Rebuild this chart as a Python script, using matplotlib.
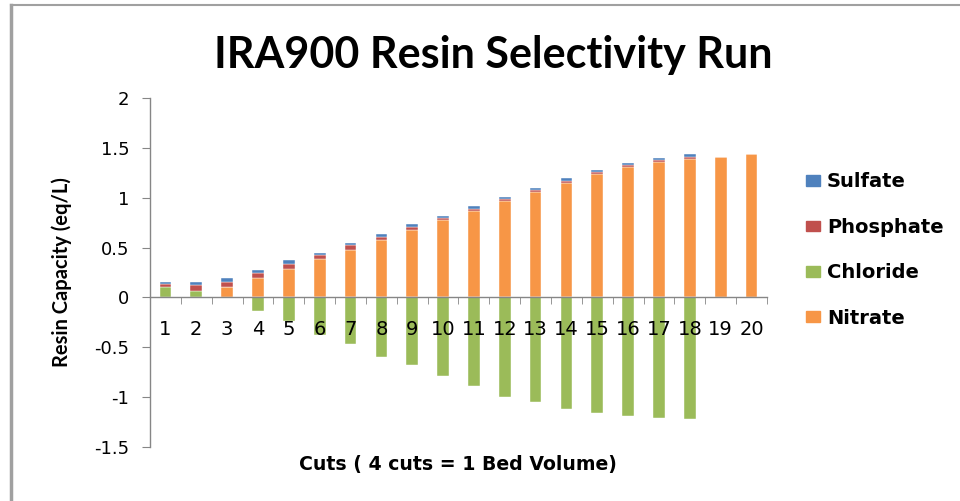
import matplotlib.pyplot as plt
import numpy as np
from matplotlib.patches import Rectangle
from matplotlib.lines import Line2D

plt.rcParams['font.family'] = ['DejaVu Sans']

cuts = [str(i) for i in range(1, 21)]
nitrate = [0, 0, 0.10, 0.197, 0.29, 0.387, 0.48, 0.577, 0.68, 0.78,
           0.87, 0.967, 1.06, 1.147, 1.233, 1.307, 1.36, 1.39, 1.413, 1.437]
chloride = [0.10, 0.067, 0, -0.133, -0.24, -0.373, -0.47, -0.597, -0.68, -0.787,
            -0.893, -1.0, -1.053, -1.117, -1.16, -1.19, -1.21, -1.223, 0, 0]
phosphate = [0.037, 0.053, 0.053, 0.043, 0.043, 0.043, 0.043, 0.03, 0.023, 0.02,
             0.02, 0.023, 0.02, 0.023, 0.023, 0.02, 0.02, 0.023, 0, 0]
sulfate = [0.017, 0.033, 0.04, 0.04, 0.04, 0.02, 0.02, 0.033, 0.03, 0.02,
           0.027, 0.013, 0.017, 0.023, 0.02, 0.023, 0.023, 0.023, 0, 0]

series = [('Nitrate', nitrate, '#F79646'),
          ('Chloride', chloride, '#9BBB59'),
          ('Phosphate', phosphate, '#C0504D'),
          ('Sulfate', sulfate, '#4F81BD')]

fig = plt.figure(figsize=(9.6, 5.01), dpi=100)
ax = fig.add_axes([0.15625, 0.1078, 0.6427, 0.6966])

x = np.arange(1, 21)
pos_bottom = np.zeros(20)
neg_bottom = np.zeros(20)
for name, vals, col in series:
    v = np.array(vals)
    bottom = np.where(v >= 0, pos_bottom, neg_bottom)
    ax.bar(x, v, 0.38, bottom=bottom, color=col, edgecolor='white', linewidth=0.3)
    pos_bottom += np.clip(v, 0, None)
    neg_bottom += np.clip(v, None, 0)

ax.set_xlim(0.5, 20.5)
ax.set_ylim(-1.5, 2)
ax.set_yticks([-1.5, -1, -0.5, 0, 0.5, 1, 1.5, 2])
ax.set_yticklabels(['-1.5', '-1', '-0.5', '0', '0.5', '1', '1.5', '2'])

ax.spines['top'].set_visible(False)
ax.spines['right'].set_visible(False)
ax.spines['bottom'].set_position(('data', 0))
for s in ('left', 'bottom'):
    ax.spines[s].set_color('#868686')
    ax.spines[s].set_linewidth(1)

ax.set_xticks(x)
ax.set_xticklabels(cuts)
ax.set_xticks(np.arange(0.5, 21, 1), minor=True)
ax.tick_params(axis='x', which='major', length=0, labelsize=14, pad=16, colors='black')
ax.tick_params(axis='x', which='minor', length=5, color='#868686', direction='out')
ax.tick_params(axis='y', length=6, color='#868686', labelsize=13, pad=9)

ax.set_ylabel('Resin Capacity (eq/L)', fontsize=14.5, fontweight='bold',
              family=['Lato', 'DejaVu Sans'])
ax.yaxis.set_label_coords(-0.127, 0.5)
fig.text(0.477, 0.072, 'Cuts ( 4 cuts = 1 Bed Volume)', ha='center', va='center',
         fontsize=13.6, fontweight='bold')
fig.text(0.514, 0.891, 'IRA900 Resin Selectivity Run', ha='center', va='center',
         fontsize=31, fontweight='bold', family=['Lato', 'DejaVu Sans'])

handles = [Rectangle((0, 0), 1, 1, color=c) for _, _, c in series[::-1]]
labels = [n for n, _, _ in series[::-1]]
fig.legend(handles, labels, loc='center left', bbox_to_anchor=(0.8396, 0.501),
           frameon=False, prop={'weight': 'bold', 'size': 14},
           handlelength=0.72, handleheight=0.46, handletextpad=0.35,
           labelspacing=1.36, borderpad=0, borderaxespad=0)

# outer frame lines (left and top)
fig.add_artist(Line2D([0.011, 0.011], [0, 0.99], color='#A0A0A0', linewidth=2.5,
                      transform=fig.transFigure))
fig.add_artist(Line2D([0.011, 1], [0.99, 0.99], color='#A0A0A0', linewidth=1.5,
                      transform=fig.transFigure))

fig.savefig('out.png', dpi=100)
